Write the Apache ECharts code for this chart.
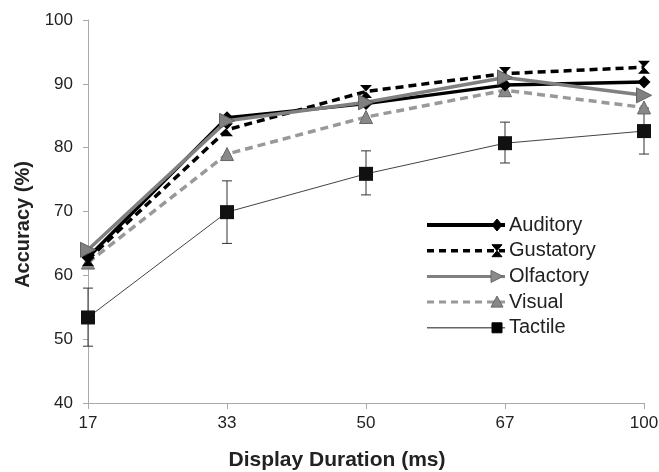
<!DOCTYPE html>
<html><head><meta charset="utf-8">
<script src="https://cdn.jsdelivr.net/npm/echarts@6/dist/echarts.min.js"></script>
<style>html,body{margin:0;padding:0;background:#fff}#c{width:659px;height:472px}</style>
</head><body><div id="c"></div>
<script>
var categories = ['17', '33', '50', '67', '100'];
var yTicks = [40, 50, 60, 70, 80, 90, 100];
var legendNames = ['Auditory', 'Gustatory', 'Olfactory', 'Visual', 'Tactile'];
var auditory = [62.8, 84.7, 86.9, 89.8, 90.3];
var gustatory = [62.5, 82.8, 88.8, 91.6, 92.6];
var olfactory = [64.0, 84.2, 87.1, 91.0, 88.2];
var visual = [62.0, 79.0, 84.8, 89.0, 86.3];
var tactile = [53.4, 69.9, 75.9, 80.7, 82.6];
var tactileLow = [48.9, 65.0, 72.6, 77.6, 79.0];
var tactileHigh = [58.0, 74.8, 79.5, 84.0, 86.2];

var FONT = 'Liberation Sans, Arial, sans-serif';
var hourglass = 'path://M0,0 L10,0 L5,5 L10,10 L0,10 L5,5 Z';

// legend styles (drawn with graphic elements so the marker sits at the right end of the line)
var legendStyles = [
  { line: { stroke: '#000', lineWidth: 4 }, sym: 'diamond', fill: '#000', stroke: '#000' },
  { line: { stroke: '#000', lineWidth: 3.5, lineDash: [7, 5] }, sym: 'hourglass', fill: '#000', stroke: '#000' },
  { line: { stroke: '#808080', lineWidth: 3 }, sym: 'right', fill: '#8a8a8a', stroke: '#666' },
  { line: { stroke: '#999', lineWidth: 3, lineDash: [7, 5] }, sym: 'up', fill: '#888', stroke: '#666' },
  { line: { stroke: '#666', lineWidth: 1.5 }, sym: 'square', fill: '#000', stroke: '#000' }
];
function symPoints(kind, cx, cy) {
  if (kind === 'diamond') return [[cx - 5, cy], [cx, cy - 6], [cx + 5, cy], [cx, cy + 6]];
  if (kind === 'hourglass') return [[cx - 5, cy - 6], [cx + 5, cy - 6], [cx, cy], [cx + 5, cy + 6], [cx - 5, cy + 6], [cx, cy]];
  if (kind === 'right') return [[cx - 6, cy - 6], [cx + 6, cy], [cx - 6, cy + 6]];
  if (kind === 'up') return [[cx, cy - 6], [cx + 6, cy + 5], [cx - 6, cy + 5]];
  return [[cx - 5, cy - 5], [cx + 5, cy - 5], [cx + 5, cy + 5], [cx - 5, cy + 5]];
}
var legendGraphics = [];
legendNames.forEach(function (nm, i) {
  var y = 225 + i * 25.7;
  var s = legendStyles[i];
  legendGraphics.push({ type: 'line', shape: { x1: 427, y1: y, x2: 505, y2: y }, style: s.line, z: 100 });
  legendGraphics.push({ type: 'polygon', shape: { points: symPoints(s.sym, 497, y) }, style: { fill: s.fill, stroke: s.stroke, lineWidth: 1 }, z: 101 });
  legendGraphics.push({ type: 'text', x: 509, y: y, style: { text: nm, font: '20px ' + FONT, fill: '#222', textVerticalAlign: 'middle', textAlign: 'left' }, z: 101 });
});

var chart = echarts.init(document.getElementById('c'));
var errData = categories.map(function (c, i) { return [i, tactileLow[i], tactileHigh[i]]; });

chart.setOption({
  animation: false,
  backgroundColor: '#fff',
  grid: { left: 88, right: 15, top: 20, bottom: 69, containLabel: false, outerBoundsMode: 'none' },
  xAxis: {
    type: 'category', data: categories, boundaryGap: false,
    name: 'Display Duration (ms)', nameLocation: 'middle', nameGap: 47,
    nameTextStyle: { fontFamily: FONT, fontWeight: 'bold', fontSize: 21, color: '#222', padding: [0, 58, 0, 0] },
    axisLine: { lineStyle: { color: '#aaa', width: 1 } },
    axisTick: { show: true, alignWithLabel: true, length: 6, lineStyle: { color: '#aaa' } },
    axisLabel: { fontFamily: FONT, fontSize: 17, color: '#222', margin: 12, hideOverlap: false },
    splitLine: { show: false }
  },
  yAxis: {
    type: 'value', min: yTicks[0], max: yTicks[yTicks.length - 1], interval: 10,
    name: 'Accuracy (%)', nameLocation: 'middle', nameGap: 54, nameRotate: 90,
    nameTextStyle: { fontFamily: FONT, fontWeight: 'bold', fontSize: 20, color: '#222', padding: [0, 26, 0, 0] },
    axisLine: { show: true, lineStyle: { color: '#aaa', width: 1 } },
    axisTick: { show: true, length: 5, lineStyle: { color: '#aaa' } },
    axisLabel: { fontFamily: FONT, fontSize: 17, color: '#222', margin: 15 },
    splitLine: { show: false }
  },
  graphic: legendGraphics,
  series: [
    {
      name: 'errbars', type: 'custom', data: errData, z: 1, silent: true,
      renderItem: function (params, api) {
        var x = api.value(0);
        var lo = api.coord([x, api.value(1)]);
        var hi = api.coord([x, api.value(2)]);
        var w = 5;
        var st = { stroke: '#333', lineWidth: 1 };
        return { type: 'group', children: [
          { type: 'line', shape: { x1: lo[0], y1: lo[1], x2: hi[0], y2: hi[1] }, style: st },
          { type: 'line', shape: { x1: lo[0] - w, y1: lo[1], x2: lo[0] + w, y2: lo[1] }, style: st },
          { type: 'line', shape: { x1: hi[0] - w, y1: hi[1], x2: hi[0] + w, y2: hi[1] }, style: st }
        ]};
      }
    },
    {
      name: 'Tactile', type: 'line', data: tactile, z: 2,
      symbol: 'rect', symbolSize: 14,
      lineStyle: { color: '#444', width: 1 },
      itemStyle: { color: '#111', borderColor: '#111', borderWidth: 0 }
    },
    {
      name: 'Visual', type: 'line', data: visual, z: 3,
      symbol: 'triangle', symbolSize: 13,
      lineStyle: { color: '#999', width: 3.5, type: [8, 5] },
      itemStyle: { color: '#888', borderColor: '#666', borderWidth: 1 }
    },
    {
      name: 'Gustatory', type: 'line', data: gustatory, z: 4,
      symbol: hourglass, symbolSize: [12, 13],
      lineStyle: { color: '#000', width: 3.5, type: [8, 5] },
      itemStyle: { color: '#000', borderColor: '#000', borderWidth: 0 }
    },
    {
      name: 'Auditory', type: 'line', data: auditory, z: 5,
      symbol: 'diamond', symbolSize: 13,
      lineStyle: { color: '#000', width: 3.5 },
      itemStyle: { color: '#000', borderColor: '#000', borderWidth: 0 }
    },
    {
      name: 'Olfactory', type: 'line', data: olfactory, z: 6,
      symbol: 'triangle', symbolRotate: -90, symbolSize: 15,
      lineStyle: { color: '#808080', width: 3.5 },
      itemStyle: { color: '#808080', borderColor: '#606060', borderWidth: 1 }
    }
  ]
});
</script>
</body></html>
